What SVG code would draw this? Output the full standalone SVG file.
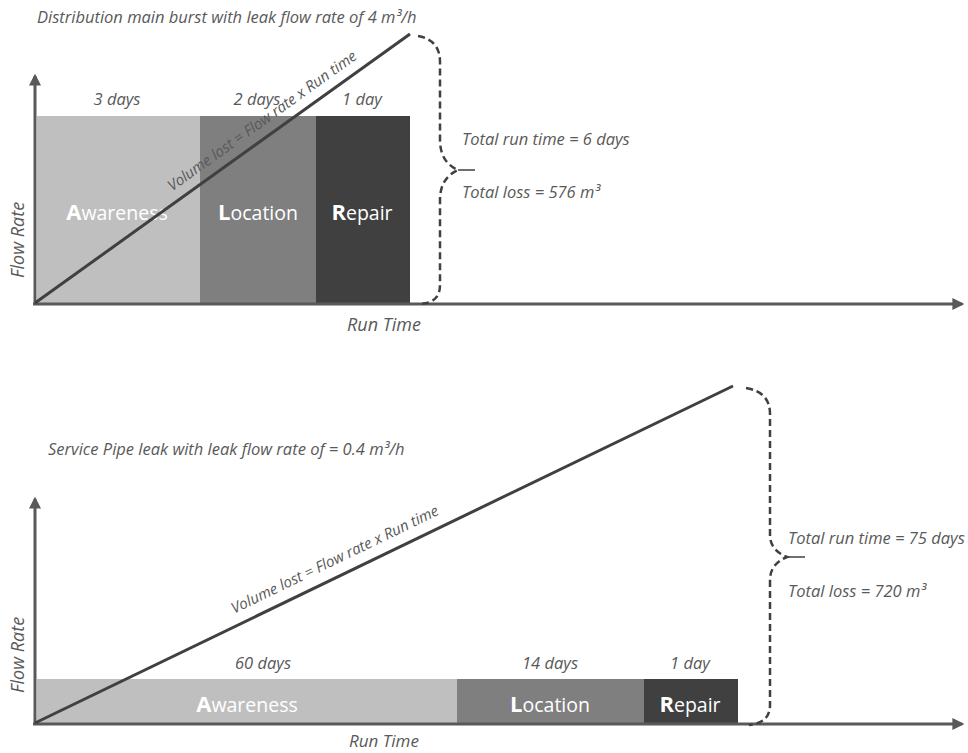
<svg xmlns="http://www.w3.org/2000/svg" width="968" height="753" viewBox="0 0 968 753">
<defs>
<marker id="arr" viewBox="0 0 10 10" refX="8" refY="5" markerWidth="4" markerHeight="4" orient="auto" markerUnits="strokeWidth">
<path d="M0,0 L10,5 L0,10 z" fill="#595959"/>
</marker>
<style>
.it{font-family:"Open Sans","Liberation Sans",sans-serif;font-style:italic;font-size:16.5px;fill:#595959}
.ax{font-size:18px}
.fm{font-size:15px}
.lab{font-family:"Open Sans","Liberation Sans",sans-serif;font-size:19.5px;fill:#ffffff;text-anchor:middle}
.big{font-size:22px;font-weight:bold}
.axis{stroke:#595959;stroke-width:3;fill:none}
.diag{stroke:#404040;stroke-width:3;fill:none}
.brace{stroke:#404040;stroke-width:2.5;fill:none;stroke-dasharray:7,4}
.tick{stroke:#404040;stroke-width:1.5;fill:none}
.mid{text-anchor:middle}
</style>
</defs>
<rect width="968" height="753" fill="#ffffff"/>

<!-- Top chart -->
<g id="top-title"><text class="it" x="37" y="23">Distribution main burst with leak flow rate of 4 m³/h</text></g>
<g id="top-awareness"><rect x="37" y="116" width="163" height="187" fill="#bfbfbf"/><text class="lab" x="117" y="220"><tspan class="big">A</tspan>wareness</text></g>
<g id="top-location"><rect x="200" y="116" width="116" height="187" fill="#7f7f7f"/><text class="lab" x="258" y="220"><tspan class="big">L</tspan>ocation</text></g>
<g id="top-repair"><rect x="316" y="116" width="94" height="187" fill="#404040"/><text class="lab" x="362" y="220"><tspan class="big">R</tspan>epair</text></g>
<g id="top-days">
<text class="it mid" x="117" y="105">3 days</text>
<text class="it mid" x="257" y="105">2 days</text>
<text class="it mid" x="362" y="105">1 day</text>
</g>
<g id="top-axes">
<line class="axis" x1="35" y1="305" x2="35" y2="76" marker-end="url(#arr)"/>
<line class="axis" x1="33" y1="304" x2="962" y2="304" marker-end="url(#arr)"/>
<text class="it ax mid" transform="translate(24,240) rotate(-90)">Flow Rate</text>
<text class="it ax mid" x="384" y="331">Run Time</text>
</g>
<g id="top-totals">
<text class="it" x="462" y="145">Total run time = 6 days</text>
<text class="it" x="462" y="198">Total loss = 576 m³</text>
</g>

<!-- Bottom chart -->
<g id="bottom-title"><text class="it" x="48" y="455">Service Pipe leak with leak flow rate of = 0.4 m³/h</text></g>
<g id="bottom-awareness"><rect x="37" y="679" width="420" height="44" fill="#bfbfbf"/><text class="lab" x="247" y="712"><tspan class="big">A</tspan>wareness</text></g>
<g id="bottom-location"><rect x="457" y="679" width="187" height="44" fill="#7f7f7f"/><text class="lab" x="550" y="712"><tspan class="big">L</tspan>ocation</text></g>
<g id="bottom-repair"><rect x="644" y="679" width="94" height="44" fill="#404040"/><text class="lab" x="690" y="712"><tspan class="big">R</tspan>epair</text></g>
<g id="bottom-days">
<text class="it mid" x="263" y="669">60 days</text>
<text class="it mid" x="550" y="669">14 days</text>
<text class="it mid" x="690" y="669">1 day</text>
</g>
<g id="bottom-axes">
<line class="axis" x1="35" y1="725" x2="35" y2="499" marker-end="url(#arr)"/>
<line class="axis" x1="33" y1="724" x2="962" y2="724" marker-end="url(#arr)"/>
<text class="it ax mid" transform="translate(24,655) rotate(-90)">Flow Rate</text>
<text class="it ax mid" x="384" y="747" style="font-size:17px">Run Time</text>
</g>
<g id="bottom-totals">
<text class="it" x="788" y="544">Total run time = 75 days</text>
<text class="it" x="788" y="597">Total loss = 720 m³</text>
</g>

<g id="connectors">
<line class="diag" x1="35" y1="303" x2="410" y2="34"/>
<line class="diag" x1="35" y1="723" x2="733" y2="386"/>
<path class="brace" d="M418,36 Q440,40 440,62 L440,140 Q440,162 458,170 Q440,178 440,200 L440,285 Q440,303 420,304"/>
<line class="tick" x1="458" y1="170" x2="475" y2="170"/>
<path class="brace" d="M746,388 Q770,392 770,414 L770,535 Q770,550 787,557 Q770,564 770,580 L770,705 Q770,723 749,725"/>
<line class="tick" x1="787" y1="557" x2="805" y2="557"/>
</g>
<g id="top-formula"><text class="it fm mid" transform="translate(265,125) rotate(-35.65)">Volume lost = Flow rate x Run time</text></g>
<g id="bottom-formula"><text class="it fm mid" transform="translate(337,564) rotate(-25.84)">Volume lost = Flow rate x Run time</text></g>
</svg>
